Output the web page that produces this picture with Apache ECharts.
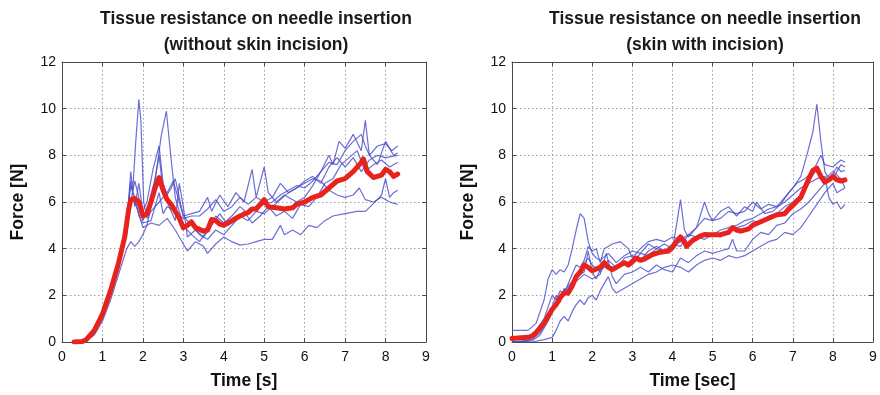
<!DOCTYPE html>
<html>
<head>
<meta charset="utf-8">
<script src="https://cdn.jsdelivr.net/npm/echarts@6/dist/echarts.min.js"></script>
<style>
html,body{margin:0;padding:0;background:#fff;}
#c{width:880px;height:395px;}
</style>
</head>
<body>
<div id="c"></div>
<script>
// ---------- data ----------
const xTicks = [0,1,2,3,4,5,6,7,8,9];
const yTicks = [0,2,4,6,8,10,12];
const leftTitle = ['Tissue resistance on needle insertion', '(without skin incision)'];
const rightTitle = ['Tissue resistance on needle insertion', '(skin with incision)'];
const leftXName = 'Time [s]';
const rightXName = 'Time [sec]';
const yName = 'Force [N]';

// Left panel: individual trials (time s, force N)
const leftTrial1 = [[0.3,0],[0.6,0.05],[0.8,0.4],[1.0,1.1],[1.2,2.1],[1.4,3.3],[1.6,5.0],[1.7,7.3],[1.75,6.5],[1.82,8.5],[1.9,10.4],[1.95,9.5],[2.02,6.0],[2.1,5.3],[2.2,5.6],[2.4,6.0],[2.6,6.4],[2.75,6.9],[2.9,6.0],[3.0,5.4],[3.2,5.5],[3.4,5.6],[3.6,6.2],[3.7,5.6],[3.9,6.3],[4.1,5.8],[4.3,6.4],[4.5,6.0],[4.7,7.4],[4.8,6.2],[5.0,7.5],[5.1,6.4],[5.3,6.0],[5.5,6.3],[5.8,6.0],[6.0,6.2],[6.2,6.7],[6.4,7.3],[6.6,8.0],[6.7,7.6],[6.85,8.6],[7.0,8.3],[7.2,8.9],[7.4,8.2],[7.5,9.5],[7.6,8.0],[7.8,7.6],[8.0,8.6],[8.2,8.0],[8.3,8.1]];
const leftTrial2 = [[0.3,0],[0.6,0.05],[0.8,0.4],[1.0,1.0],[1.2,2.0],[1.4,3.1],[1.6,4.8],[1.7,6.1],[1.8,6.0],[1.9,5.5],[2.0,4.9],[2.1,5.0],[2.2,5.8],[2.35,7.5],[2.45,8.8],[2.58,9.9],[2.7,7.8],[2.8,6.2],[2.9,5.6],[3.0,5.0],[3.2,4.6],[3.4,4.3],[3.6,4.8],[3.8,5.4],[4.0,5.1],[4.2,5.4],[4.4,5.8],[4.6,5.5],[4.8,5.7],[5.0,5.9],[5.2,6.0],[5.4,6.3],[5.6,6.5],[5.8,6.7],[6.0,6.6],[6.2,6.9],[6.4,7.3],[6.6,7.7],[6.8,7.6],[7.0,8.2],[7.2,8.6],[7.4,8.9],[7.5,8.4],[7.6,8.0],[7.8,8.4],[8.0,8.5],[8.15,8.2],[8.3,8.4]];
const leftTrial3 = [[0.3,0],[0.6,0.1],[0.8,0.5],[1.0,1.2],[1.2,2.3],[1.4,3.5],[1.6,5.2],[1.7,6.9],[1.8,5.8],[1.9,6.8],[2.0,5.6],[2.1,6.0],[2.25,7.4],[2.4,8.4],[2.5,6.8],[2.6,6.3],[2.7,6.6],[2.8,7.0],[2.9,6.2],[3.0,5.4],[3.2,5.0],[3.4,4.6],[3.6,4.4],[3.8,4.8],[4.0,4.6],[4.2,5.0],[4.4,5.4],[4.6,5.2],[4.8,5.6],[5.0,5.5],[5.2,5.8],[5.4,6.1],[5.6,6.4],[5.8,6.6],[6.0,6.9],[6.2,7.1],[6.4,6.8],[6.6,7.5],[6.8,7.9],[7.0,7.5],[7.2,7.9],[7.4,7.3],[7.6,7.8],[7.8,8.0],[8.0,7.9],[8.3,8.0]];
const leftTrial4 = [[0.3,0],[0.6,0.05],[0.8,0.3],[1.0,0.9],[1.2,1.8],[1.4,2.9],[1.6,4.0],[1.7,4.3],[1.8,4.1],[1.9,4.3],[2.0,4.6],[2.1,5.0],[2.2,5.1],[2.4,5.0],[2.6,5.3],[2.8,4.8],[3.0,4.2],[3.1,3.9],[3.3,4.3],[3.5,4.1],[3.6,3.8],[3.8,4.2],[4.0,4.5],[4.2,4.3],[4.4,4.15],[4.6,4.2],[4.8,4.3],[5.0,4.4],[5.2,4.4],[5.4,5.0],[5.5,4.6],[5.7,4.8],[5.9,4.6],[6.1,5.0],[6.3,4.9],[6.5,5.2],[6.7,5.4],[7.0,5.5],[7.3,5.6],[7.5,5.6],[7.8,6.1],[7.9,6.3],[8.0,7.0],[8.1,6.2],[8.2,6.4],[8.3,6.5]];
const leftTrial5 = [[0.3,0],[0.6,0.1],[0.8,0.5],[1.0,1.2],[1.2,2.2],[1.4,3.4],[1.6,5.3],[1.7,6.7],[1.8,6.2],[1.9,5.4],[2.0,5.1],[2.2,5.2],[2.4,6.4],[2.5,5.5],[2.6,5.8],[2.8,5.6],[3.0,5.3],[3.2,5.4],[3.4,5.4],[3.6,5.7],[3.8,6.1],[4.0,5.6],[4.2,5.8],[4.4,6.2],[4.6,5.9],[4.8,6.2],[5.0,6.0],[5.2,6.2],[5.4,6.8],[5.6,6.4],[5.8,6.6],[6.0,6.8],[6.2,7.0],[6.4,6.9],[6.6,6.5],[6.8,6.3],[7.0,6.2],[7.2,6.3],[7.35,6.6],[7.5,6.1],[7.7,6.0],[7.9,6.2],[8.1,6.0],[8.3,5.9]];
const leftTrial6 = [[0.3,0],[0.6,0.05],[0.8,0.4],[1.0,1.1],[1.2,2.1],[1.4,3.2],[1.6,4.6],[1.7,6.0],[1.8,6.9],[1.9,6.2],[2.0,5.2],[2.1,5.6],[2.3,7.0],[2.4,8.0],[2.5,6.5],[2.6,6.0],[2.8,5.2],[2.9,6.8],[3.0,5.8],[3.1,4.5],[3.3,4.8],[3.5,4.5],[3.7,5.0],[3.9,5.5],[4.1,5.0],[4.3,5.2],[4.5,5.6],[4.7,5.1],[4.9,5.4],[5.1,5.8],[5.3,5.4],[5.5,5.6],[5.7,5.3],[5.9,5.9],[6.1,5.8],[6.3,6.2],[6.5,6.8],[6.7,7.0],[6.9,7.6],[7.1,7.9],[7.3,8.2],[7.5,7.3],[7.7,7.6],[7.9,7.8],[8.1,7.5],[8.3,7.7]];
const leftMean = [[0.3,0],[0.5,0.02],[0.6,0.1],[0.8,0.5],[1.0,1.2],[1.2,2.2],[1.4,3.4],[1.55,4.5],[1.65,5.7],[1.7,6.1],[1.8,6.15],[1.9,6.0],[2.0,5.4],[2.1,5.5],[2.2,6.0],[2.3,6.6],[2.4,7.05],[2.5,6.5],[2.6,6.1],[2.7,5.9],[2.8,5.6],[2.9,5.3],[3.0,4.9],[3.1,5.0],[3.2,5.15],[3.3,4.9],[3.5,4.75],[3.6,4.8],[3.7,5.25],[3.8,5.2],[3.9,5.05],[4.0,5.0],[4.2,5.2],[4.4,5.4],[4.6,5.55],[4.7,5.7],[4.8,5.7],[4.9,5.9],[5.0,6.1],[5.1,5.8],[5.3,5.75],[5.5,5.7],[5.7,5.75],[5.8,5.9],[6.0,6.0],[6.2,6.2],[6.4,6.3],[6.6,6.6],[6.8,6.9],[7.0,7.0],[7.2,7.3],[7.4,7.7],[7.45,7.85],[7.55,7.3],[7.7,7.05],[7.9,7.15],[8.0,7.4],[8.1,7.3],[8.2,7.1],[8.3,7.2]];

// Right panel: individual trials (time s, force N)
const rightTrial1 = [[0,0.5],[0.4,0.5],[0.6,0.8],[0.8,1.8],[0.9,2.7],[1.0,3.1],[1.1,2.9],[1.2,3.1],[1.3,3.0],[1.4,3.3],[1.5,4.0],[1.6,4.8],[1.7,5.5],[1.8,5.3],[1.9,4.3],[2.0,3.8],[2.1,3.6],[2.2,3.5],[2.4,3.8],[2.6,3.4],[2.8,3.7],[3.0,3.9],[3.2,3.8],[3.4,4.2],[3.6,4.0],[3.8,4.2],[4.0,4.0],[4.1,5.0],[4.2,6.1],[4.3,4.8],[4.4,4.5],[4.6,4.9],[4.8,5.3],[5.0,5.2],[5.2,5.3],[5.4,5.6],[5.6,5.5],[5.8,5.6],[6.0,6.0],[6.2,5.7],[6.4,5.9],[6.6,5.8],[6.8,6.2],[7.0,6.6],[7.2,7.1],[7.35,8.0],[7.5,9.0],[7.6,10.2],[7.7,8.6],[7.8,7.3],[7.9,7.0],[8.0,7.2],[8.1,7.5],[8.2,7.3],[8.3,7.35]];
const rightTrial2 = [[0,0],[0.5,0],[0.8,0.1],[1.0,0.2],[1.1,0.5],[1.2,0.9],[1.3,1.1],[1.4,0.9],[1.5,1.3],[1.6,1.6],[1.7,1.8],[1.8,1.6],[1.9,1.9],[2.0,2.0],[2.1,1.8],[2.2,2.2],[2.3,2.5],[2.4,2.8],[2.5,2.3],[2.6,2.1],[2.8,2.3],[3.0,2.5],[3.2,2.7],[3.4,2.9],[3.6,3.0],[3.8,3.2],[4.0,3.3],[4.2,3.2],[4.4,3.0],[4.6,3.3],[4.8,3.5],[5.0,3.6],[5.2,3.5],[5.4,3.7],[5.6,3.6],[5.8,3.7],[6.0,3.9],[6.2,4.1],[6.4,4.3],[6.6,4.4],[6.8,4.7],[7.0,4.6],[7.2,4.9],[7.4,5.4],[7.6,5.9],[7.8,6.4],[8.0,6.8],[8.1,6.4],[8.2,6.5],[8.3,6.6]];
const rightTrial3 = [[0,0],[0.3,0.05],[0.5,0.1],[0.7,0.4],[0.9,1.0],[1.0,1.5],[1.1,2.0],[1.2,1.7],[1.3,2.3],[1.4,2.0],[1.5,2.5],[1.6,2.6],[1.8,2.9],[2.0,2.7],[2.2,2.9],[2.35,3.8],[2.5,2.8],[2.6,2.5],[2.8,2.9],[3.0,3.0],[3.2,3.2],[3.4,3.0],[3.6,3.3],[3.8,3.1],[4.0,3.0],[4.2,3.6],[4.4,3.4],[4.6,3.7],[4.8,3.9],[5.0,3.8],[5.2,3.9],[5.4,4.0],[5.5,4.4],[5.6,3.9],[5.8,3.9],[6.0,4.4],[6.2,4.7],[6.4,4.6],[6.6,5.0],[6.8,5.1],[7.0,5.5],[7.2,5.7],[7.4,6.0],[7.6,6.4],[7.8,6.8],[8.0,7.0],[8.2,7.6],[8.3,7.5]];
const rightTrial4 = [[0,0.2],[0.4,0.2],[0.6,0.5],[0.8,1.0],[1.0,2.0],[1.1,1.8],[1.2,2.2],[1.3,2.0],[1.4,2.5],[1.5,2.9],[1.6,3.3],[1.7,3.2],[1.8,3.5],[1.9,4.1],[2.0,3.9],[2.1,4.0],[2.2,3.4],[2.3,4.0],[2.5,4.2],[2.7,4.3],[2.9,4.0],[3.0,3.6],[3.2,4.0],[3.4,4.3],[3.6,4.4],[3.8,4.3],[4.0,4.5],[4.2,4.4],[4.4,4.6],[4.6,4.9],[4.8,6.0],[4.9,5.5],[5.0,5.2],[5.2,5.6],[5.4,5.8],[5.6,5.4],[5.8,5.8],[6.0,5.6],[6.1,6.0],[6.3,5.5],[6.5,5.6],[6.7,5.9],[6.9,6.4],[7.1,6.8],[7.3,7.0],[7.5,7.3],[7.7,8.0],[7.8,7.6],[8.0,7.5],[8.2,7.8],[8.3,7.7]];
const rightTrial5 = [[0,0],[0.4,0.05],[0.6,0.3],[0.8,0.8],[1.0,1.3],[1.2,1.9],[1.4,2.3],[1.6,2.8],[1.8,3.0],[1.9,3.9],[2.0,3.0],[2.1,2.7],[2.2,3.1],[2.4,3.3],[2.6,3.1],[2.8,3.6],[3.0,3.7],[3.2,3.5],[3.4,3.9],[3.6,4.1],[3.8,3.9],[4.0,4.2],[4.2,4.1],[4.4,4.6],[4.6,4.5],[4.8,4.4],[5.0,4.6],[5.2,4.5],[5.4,4.8],[5.6,4.9],[5.8,5.0],[6.0,5.2],[6.2,5.1],[6.4,5.4],[6.6,5.5],[6.8,5.8],[7.0,6.0],[7.2,6.3],[7.4,6.9],[7.6,7.4],[7.8,7.0],[8.0,7.3],[8.2,7.0],[8.3,6.6]];
const rightTrial6 = [[0,0],[0.5,0.05],[0.7,0.3],[0.9,0.9],[1.1,1.6],[1.3,2.2],[1.5,2.6],[1.7,3.1],[1.9,3.6],[2.0,3.3],[2.2,3.0],[2.4,3.5],[2.6,3.2],[2.8,3.4],[3.0,3.3],[3.2,3.8],[3.4,3.7],[3.6,4.0],[3.8,3.9],[4.0,4.1],[4.2,4.3],[4.4,4.2],[4.6,4.4],[4.8,4.7],[5.0,4.6],[5.2,4.8],[5.4,4.9],[5.6,5.0],[5.8,5.2],[6.0,5.3],[6.2,5.5],[6.4,5.7],[6.6,5.8],[6.8,6.0],[7.0,6.3],[7.2,6.6],[7.4,6.8],[7.6,7.0],[7.8,7.1],[7.9,6.2],[8.0,5.9],[8.1,6.0],[8.2,5.7],[8.3,5.9]];
const rightMean = [[0,0.15],[0.4,0.2],[0.5,0.25],[0.6,0.4],[0.8,0.8],[1.0,1.4],[1.1,1.6],[1.2,1.9],[1.3,2.1],[1.4,2.1],[1.5,2.4],[1.6,2.8],[1.7,3.0],[1.8,3.3],[1.9,3.2],[2.0,3.05],[2.2,3.2],[2.3,3.4],[2.4,3.2],[2.5,3.1],[2.6,3.2],[2.8,3.4],[2.9,3.3],[3.0,3.45],[3.1,3.6],[3.2,3.5],[3.3,3.55],[3.5,3.75],[3.7,3.85],[3.9,3.9],[4.0,4.05],[4.1,4.3],[4.2,4.5],[4.3,4.3],[4.35,4.1],[4.5,4.35],[4.7,4.55],[4.8,4.6],[5.0,4.6],[5.2,4.6],[5.4,4.7],[5.5,4.9],[5.6,4.8],[5.7,4.75],[5.9,4.85],[6.0,5.0],[6.2,5.15],[6.4,5.3],[6.6,5.45],[6.8,5.5],[6.9,5.7],[7.0,5.85],[7.2,6.2],[7.3,6.6],[7.4,7.0],[7.5,7.35],[7.6,7.45],[7.7,7.1],[7.8,6.85],[7.9,6.95],[8.0,7.1],[8.1,6.95],[8.2,6.9],[8.3,6.95]];

const leftTrials = [leftTrial1, leftTrial2, leftTrial3, leftTrial4, leftTrial5, leftTrial6];
const rightTrials = [rightTrial1, rightTrial2, rightTrial3, rightTrial4, rightTrial5, rightTrial6];

// ---------- styles ----------
const FONT = 'Liberation Sans, Arial, Helvetica, sans-serif';
const BLUE = 'rgba(70,74,200,0.8)';
const RED = '#e8221c';
const FRAME = '#4a4a4a';

function xAxisPair(gridIndex, name) {
  return [
    {
      gridIndex, type: 'value', min: 0, max: 9, interval: 1, position: 'bottom',
      name, nameLocation: 'middle', nameGap: 30,
      nameTextStyle: { fontFamily: FONT, fontSize: 17.5, fontWeight: 'bold', color: '#111' },
      axisLine: { show: true, onZero: false, lineStyle: { color: FRAME, width: 1 } },
      axisTick: { show: true, inside: true, length: 4, lineStyle: { color: FRAME } },
      axisLabel: { show: true, margin: 8, fontFamily: FONT, fontSize: 14, color: '#111',
        formatter: v => xTicks.includes(v) ? String(v) : '' },
      splitLine: { show: true, lineStyle: { color: '#a0a0a0', width: 1, type: [1.5, 2.5] } }
    },
    {
      gridIndex, type: 'value', min: 0, max: 9, interval: 1, position: 'top',
      axisLine: { show: true, onZero: false, lineStyle: { color: FRAME, width: 1 } },
      axisTick: { show: true, inside: true, length: 4, lineStyle: { color: FRAME } },
      axisLabel: { show: false }, splitLine: { show: false }
    }
  ];
}
function yAxisPair(gridIndex) {
  return [
    {
      gridIndex, type: 'value', min: 0, max: 12, interval: 2, position: 'left',
      name: yName, nameLocation: 'middle', nameGap: 35,
      nameTextStyle: { fontFamily: FONT, fontSize: 17.5, fontWeight: 'bold', color: '#111' },
      axisLine: { show: true, onZero: false, lineStyle: { color: FRAME, width: 1 } },
      axisTick: { show: true, inside: true, length: 4, lineStyle: { color: FRAME } },
      axisLabel: { show: true, margin: 6, fontFamily: FONT, fontSize: 14, color: '#111',
        formatter: v => yTicks.includes(v) ? String(v) : '' },
      splitLine: { show: true, lineStyle: { color: '#a0a0a0', width: 1, type: [1.5, 2.5] } }
    },
    {
      gridIndex, type: 'value', min: 0, max: 12, interval: 2, position: 'right',
      axisLine: { show: true, onZero: false, lineStyle: { color: FRAME, width: 1 } },
      axisTick: { show: true, inside: true, length: 4, lineStyle: { color: FRAME } },
      axisLabel: { show: false }, splitLine: { show: false }
    }
  ];
}

const series = [];
function addPanel(trials, mean, axisBase) {
  trials.forEach(d => series.push({
    type: 'line', xAxisIndex: axisBase, yAxisIndex: axisBase, data: d,
    showSymbol: false, symbol: 'none', smooth: false, silent: true, animation: false,
    lineStyle: { color: BLUE, width: 1.2 }, z: 2
  }));
  series.push({
    type: 'line', xAxisIndex: axisBase, yAxisIndex: axisBase, data: mean,
    showSymbol: false, symbol: 'none', silent: true, animation: false,
    lineStyle: { color: RED, width: 5, join: 'round', cap: 'round' }, z: 3
  });
}
addPanel(leftTrials, leftMean, 0);
addPanel(rightTrials, rightMean, 2);

const titleStyle = { fontFamily: FONT, fontSize: 17.5, fontWeight: 'bold', color: '#1a1a1a', lineHeight: 26 };

const option = {
  backgroundColor: '#fff',
  animation: false,
  title: [
    { text: leftTitle.join('\n'), left: 251, top: 1, textAlign: 'center', textStyle: titleStyle },
    { text: rightTitle.join('\n'), left: 700, top: 1, textAlign: 'center', textStyle: titleStyle }
  ],
  grid: [
    { left: 62, top: 62, width: 364, height: 285, show: false },
    { left: 512, top: 62, width: 361, height: 285, show: false }
  ],
  xAxis: [...xAxisPair(0, leftXName), ...xAxisPair(1, rightXName)],
  yAxis: [...yAxisPair(0), ...yAxisPair(1)],
  series
};

const chart = echarts.init(document.getElementById('c'), null, { renderer: 'canvas' });
chart.setOption(option);
</script>
</body>
</html>
